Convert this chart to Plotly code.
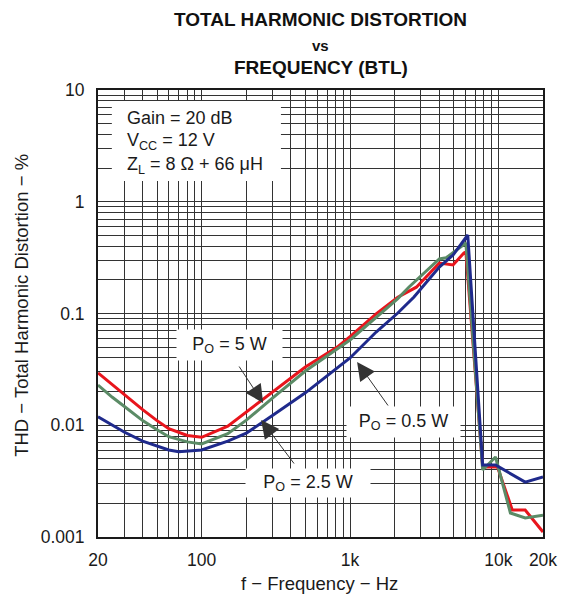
import math
import plotly.graph_objects as go

# ---------------- data ----------------
freq_5w = [20, 25, 30, 40, 50, 60, 80, 100, 150, 200, 300, 500, 820, 1000, 1500, 2100, 2800, 4000, 4950, 5860, 6040, 7840, 9870, 12430, 15170, 20000]
thd_5w = [0.0294, 0.0229, 0.0188, 0.0138, 0.0110, 0.0093, 0.0081, 0.0078, 0.0098, 0.0131, 0.0195, 0.0332, 0.0501, 0.0621, 0.099, 0.140, 0.172, 0.283, 0.272, 0.348, 0.355, 0.00423, 0.00423, 0.00174, 0.00174, 0.00111]

freq_25w = [20, 25, 30, 40, 50, 60, 80, 100, 150, 200, 300, 500, 1000, 1500, 2100, 2500, 4000, 4450, 6040, 7840, 9570, 12060, 15170, 20000]
thd_25w = [0.0229, 0.0178, 0.0148, 0.0110, 0.0091, 0.0079, 0.0071, 0.0068, 0.0084, 0.0111, 0.0175, 0.0306, 0.058, 0.093, 0.136, 0.1726, 0.3075, 0.315, 0.428, 0.00398, 0.0052, 0.00164, 0.00148, 0.00157]

freq_05w = [20, 25, 30, 40, 50, 60, 70, 100, 150, 200, 300, 500, 1000, 1500, 2100, 2700, 4000, 4950, 6220, 7840, 9570, 15170, 20000]
thd_05w = [0.0119, 0.0100, 0.0087, 0.0072, 0.0065, 0.0060, 0.0058, 0.0060, 0.0072, 0.0085, 0.0122, 0.0195, 0.040, 0.0683, 0.101, 0.1406, 0.2607, 0.3336, 0.504, 0.00441, 0.00441, 0.0031, 0.00344]

x_ticks = [20, 100, 1000, 10000, 20000]
x_ticktext = ["20", "100", "1k", "10k", "20k"]
x_minor = [30, 40, 50, 60, 70, 80, 90, 200, 300, 400, 500, 600, 700, 800, 900,
           2000, 3000, 4000, 5000, 6000, 7000, 8000, 9000]
y_ticks = [0.001, 0.01, 0.1, 1, 10]
y_ticktext = ["0.001", "0.01", "0.1", "1", "10"]
y_minor = [m * 10 ** e for e in range(-3, 1) for m in range(2, 10)]

FONT = "Liberation Sans, Arial, sans-serif"
RED = "#e8151c"
GREEN = "#5b8b66"
BLUE = "#1f2a8c"
GRID = "#333333"

fig = go.Figure()
fig.add_trace(go.Scatter(x=freq_5w, y=thd_5w, mode="lines", line=dict(color=RED, width=3), showlegend=False))
fig.add_trace(go.Scatter(x=freq_25w, y=thd_25w, mode="lines", line=dict(color=GREEN, width=3), showlegend=False))
fig.add_trace(go.Scatter(x=freq_05w, y=thd_05w, mode="lines", line=dict(color=BLUE, width=3), showlegend=False))

L, R, T, B = 98, 21, 90, 57
W, H = 569, 594
PW, PH = W - L - R, H - T - B


def px(xp):
    return (xp - L) / PW


def py(yp):
    return (H - B - yp) / PH


fig.update_layout(
    width=W, height=H,
    margin=dict(l=L, r=R, t=T, b=B),
    paper_bgcolor="white", plot_bgcolor="white",
    font=dict(family=FONT, color="#1a1a1a"),
    xaxis=dict(
        type="log", range=[math.log10(20), math.log10(20000)],
        tickmode="array", tickvals=x_ticks, ticktext=x_ticktext,
        showgrid=True, gridcolor=GRID, gridwidth=1,
        minor=dict(tickmode="array", tickvals=x_minor, showgrid=True, gridcolor=GRID, gridwidth=1, ticks=""),
        showline=True, linecolor="#1a1a1a", linewidth=2, mirror=True,
        ticks="", tickfont=dict(size=17.5, family=FONT, color="#1a1a1a"),
        ticklabelstandoff=6, zeroline=False,
    ),
    yaxis=dict(
        type="log", range=[-3, 1],
        tickmode="array", tickvals=y_ticks, ticktext=y_ticktext,
        showgrid=True, gridcolor=GRID, gridwidth=1,
        minor=dict(tickmode="array", tickvals=y_minor, showgrid=True, gridcolor=GRID, gridwidth=1, ticks=""),
        showline=True, linecolor="#1a1a1a", linewidth=2, mirror=True,
        ticks="", tickfont=dict(size=17.5, family=FONT, color="#1a1a1a"),
        ticklabelstandoff=8, zeroline=False,
    ),
)

# white box with the test conditions
fig.add_shape(type="rect", xref="paper", yref="paper",
              x0=px(112), x1=px(283), y0=py(181), y1=py(101),
              fillcolor="white", line=dict(width=0), layer="above")

cond = ["Gain = 20 dB", "V<sub>CC</sub> = 12 V", "Z<sub>L</sub> = 8 Ω + 66 μH"]
cond_y = [118, 141.5, 165]
for txt, yy in zip(cond, cond_y):
    fig.add_annotation(text=txt, xref="paper", yref="paper", x=px(125), y=py(yy),
                       xanchor="left", yanchor="middle", showarrow=False,
                       font=dict(size=18, family=FONT, color="#1a1a1a"))

# curve labels
labels = [("P<sub>O</sub> = 5 W", 230.5, 345, 105, 30),
          ("P<sub>O</sub> = 0.5 W", 406.5, 422, 113, 30),
          ("P<sub>O</sub> = 2.5 W", 310, 483, 124, 28)]
for txt, cx, cy, w, h in labels:
    fig.add_annotation(text=txt, xref="paper", yref="paper", x=px(cx), y=py(cy),
                       xanchor="center", yanchor="middle", showarrow=False,
                       width=w, height=h, bgcolor="white", borderpad=0,
                       font=dict(size=18, family=FONT, color="#1a1a1a"))

# arrows (head, tail)
arrows = [((265, 403), (240, 365)), ((360, 362), (392, 407)), ((263, 420), (297, 465))]
for (hx, hy), (tx, ty) in arrows:
    fig.add_annotation(text="", xref="paper", yref="paper", x=px(hx), y=py(hy),
                       ax=tx - hx, ay=ty - hy, showarrow=True,
                       arrowhead=2, arrowsize=3.6, arrowwidth=1, arrowcolor="#333333")

# titles
titles = [("<b>TOTAL HARMONIC DISTORTION</b>", 19, 19),
          ("<b>vs</b>", 45, 15),
          ("<b>FREQUENCY (BTL)</b>", 68, 19)]
for txt, yy, sz in titles:
    fig.add_annotation(text=txt, xref="paper", yref="paper", x=px(323), y=py(yy),
                       xanchor="center", yanchor="middle", showarrow=False,
                       font=dict(size=sz, family=FONT, color="#111111"))

fig.add_annotation(text="THD − Total Harmonic Distortion − %", xref="paper", yref="paper",
                   x=px(20), y=py(305), textangle=-90, xanchor="center", yanchor="middle",
                   showarrow=False, font=dict(size=18.5, family=FONT, color="#1a1a1a"))
fig.add_annotation(text="f − Frequency − Hz", xref="paper", yref="paper",
                   x=px(322), y=py(583), xanchor="center", yanchor="middle",
                   showarrow=False, font=dict(size=18.5, family=FONT, color="#1a1a1a"))

fig.write_html("out.html", config={"displayModeBar": False},
               post_script="document.body.style.margin='0';document.body.style.overflow='hidden';")
